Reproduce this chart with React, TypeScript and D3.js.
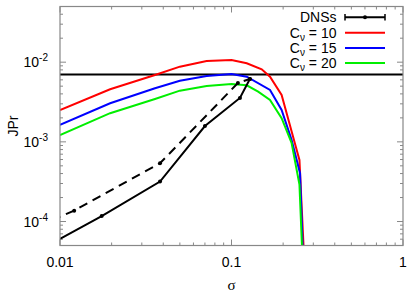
import * as d3 from 'd3';

// sigma values / JPr values
const redX = [0.01, 0.0196, 0.0358, 0.05, 0.0716, 0.1, 0.1227, 0.15, 0.1677, 0.196, 0.24, 0.249, 0.266];
const redY = [0.00251, 0.00457, 0.00692, 0.00879, 0.01035, 0.01067, 0.00969, 0.00815, 0.00658, 0.00388, 0.00079, 0.000593, 0.00003];
const blueX = [0.01, 0.0196, 0.0358, 0.05, 0.0716, 0.1, 0.1227, 0.1677, 0.196, 0.224, 0.251, 0.262];
const blueY = [0.00163, 0.00305, 0.00471, 0.00586, 0.00671, 0.00711, 0.00658, 0.00448, 0.00251, 0.00106, 0.000404, 0.00003];
const greenX = [0.01, 0.0196, 0.0358, 0.05, 0.0716, 0.1, 0.1227, 0.143, 0.1677, 0.196, 0.224, 0.249, 0.26];
const greenY = [0.00122, 0.00229, 0.00345, 0.00439, 0.00503, 0.00533, 0.00513, 0.00426, 0.00336, 0.00198, 0.00097, 0.00029, 0.00003];
const dnsX = [0.01, 0.0175, 0.0383, 0.07, 0.112, 0.128];
const dnsY = [0.0000605, 0.000117, 0.000317, 0.00158, 0.00356, 0.00615];
const dnsDashX = [0.009, 0.0121, 0.0383, 0.109, 0.128];
const dnsDashY = [0.000104, 0.000137, 0.000539, 0.00548, 0.00615];
const refLevel = 0.007;

const xTicks = [0.01, 0.1, 1];
const xTickLabels = ['0.01', '0.1', '1'];
const yTicks = [1e-4, 1e-3, 1e-2];
const yTickExps = ['-4', '-3', '-2'];
const legendLabels = ['10', '15', '20'];
const legendColors = ['#ff0000', '#0000ff', '#00ee00'];

export default function App() {
  const W = 415, H = 296;
  const m = { left: 60, right: 403, top: 6.5, bottom: 245.5 };
  const x = d3.scaleLog().domain([0.01, 1]).range([m.left, m.right]);
  const y = d3.scaleLog().domain([5e-5, 5e-2]).range([m.bottom, m.top]);
  const line = d3.line<[number, number]>().x(d => x(d[0])).y(d => y(d[1]));
  const zip = (a: number[], b: number[]) => a.map((v, i) => [v, b[i]] as [number, number]);

  const xMinor: number[] = [];
  [0.01, 0.1].forEach(b => { for (let k = 2; k <= 9; k++) xMinor.push(b * k); });
  const yMinor: number[] = [];
  [1e-5, 1e-4, 1e-3, 1e-2].forEach(b => {
    for (let k = 2; k <= 9; k++) { const v = b * k; if (v > 5e-5 && v < 5e-2) yMinor.push(v); }
  });

  const axisCol = '#888';
  const font = 'Liberation Sans, Arial, sans-serif';
  const series = [zip(redX, redY), zip(blueX, blueY), zip(greenX, greenY)];

  return (
    <svg width={W} height={H} style={{ position: 'absolute', left: 0, top: 0 }} fontFamily={font}>
      <defs>
        <clipPath id="plot">
          <rect x={m.left} y={m.top} width={m.right - m.left} height={m.bottom - m.top} />
        </clipPath>
      </defs>
      <rect width={W} height={H} fill="white" />

      {/* ticks */}
      <g stroke={axisCol} strokeWidth={1}>
        {xTicks.map(t => (
          <g key={'xt' + t}>
            <line x1={x(t)} x2={x(t)} y1={m.bottom} y2={m.bottom - 6} />
            <line x1={x(t)} x2={x(t)} y1={m.top} y2={m.top + 6} />
          </g>
        ))}
        {xMinor.map(t => (
          <g key={'xm' + t}>
            <line x1={x(t)} x2={x(t)} y1={m.bottom} y2={m.bottom - 3} />
            <line x1={x(t)} x2={x(t)} y1={m.top} y2={m.top + 3} />
          </g>
        ))}
        {yTicks.map(t => (
          <g key={'yt' + t}>
            <line x1={m.left} x2={m.left + 6} y1={y(t)} y2={y(t)} />
            <line x1={m.right} x2={m.right - 6} y1={y(t)} y2={y(t)} />
          </g>
        ))}
        {yMinor.map(t => (
          <g key={'ym' + t}>
            <line x1={m.left} x2={m.left + 3} y1={y(t)} y2={y(t)} />
            <line x1={m.right} x2={m.right - 3} y1={y(t)} y2={y(t)} />
          </g>
        ))}
      </g>

      <g clipPath="url(#plot)" fill="none">
        <line x1={m.left} x2={m.right} y1={y(refLevel)} y2={y(refLevel)} stroke="black" strokeWidth={2} />
        {series.map((s, i) => (
          <path key={i} d={line(s) || ''} stroke={legendColors[i]} strokeWidth={2} />
        ))}
        <path d={line(zip(dnsX, dnsY)) || ''} stroke="black" strokeWidth={2} />
        <path d={line(zip(dnsDashX, dnsDashY)) || ''} stroke="black" strokeWidth={2} strokeDasharray="9,6" />
        {zip(dnsX, dnsY).slice(1).map((d, i) => (
          <circle key={'a' + i} cx={x(d[0])} cy={y(d[1])} r={2} fill="black" />
        ))}
        {zip(dnsDashX, dnsDashY).slice(1).map((d, i) => (
          <circle key={'b' + i} cx={x(d[0])} cy={y(d[1])} r={2} fill="black" />
        ))}
      </g>

      {/* frame */}
      <rect x={m.left} y={m.top} width={m.right - m.left} height={m.bottom - m.top} fill="none" stroke={axisCol} strokeWidth={1.2} />

      {/* tick labels */}
      {xTicks.map((t, i) => (
        <text key={'xl' + t} x={x(t)} y={267} fontSize={14} textAnchor="middle">{xTickLabels[i]}</text>
      ))}
      {yTicks.map((t, i) => (
        <text key={'yl' + t} x={48} y={y(t) + 5} fontSize={14} textAnchor="end">
          10<tspan dy={-6} fontSize={10}>{yTickExps[i]}</tspan>
        </text>
      ))}
      <text x={231.5} y={290} fontSize={15} textAnchor="middle" fontFamily="Liberation Serif, serif">σ</text>
      <text transform={`translate(18,${(m.top + m.bottom) / 2}) rotate(-90)`} fontSize={14} textAnchor="middle">JPr</text>

      {/* legend */}
      <g fontSize={14}>
        <text x={336.5} y={22.3} textAnchor="end">DNSs</text>
        <line x1={345} x2={385} y1={17.3} y2={17.3} stroke="black" strokeWidth={2} />
        <line x1={345} x2={345} y1={14} y2={20.6} stroke="black" strokeWidth={1.5} />
        <line x1={385} x2={385} y1={14} y2={20.6} stroke="black" strokeWidth={1.5} />
        <circle cx={365} cy={17.3} r={2} fill="black" />
        {legendLabels.map((l, i) => {
          const cy = 32.7 + i * 15.2;
          return (
            <g key={l}>
              <text x={336.5} y={cy + 5} textAnchor="end">
                C<tspan dy={3} fontSize={10}>ν</tspan><tspan dy={-3}>{'  = ' + l}</tspan>
              </text>
              <line x1={345} x2={385} y1={cy} y2={cy} stroke={legendColors[i]} strokeWidth={2} />
            </g>
          );
        })}
      </g>
    </svg>
  );
}
